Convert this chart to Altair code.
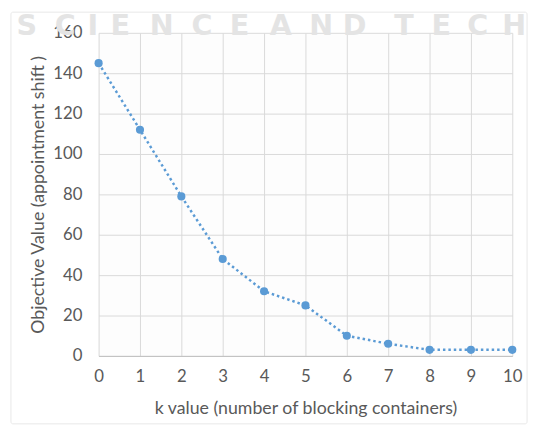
import altair as alt
import pandas as pd

k_values = [0, 1, 2, 3, 4, 5, 6, 7, 8, 9, 10]
objective = [145, 112, 79, 48, 32, 25, 10, 6, 3, 3, 3]
x_title = "k value (number of blocking containers)"
y_title = "Objective Value (appointment shift )"
watermark_letters = list("SCIENCEANDTECH")

# layout of the faint watermark letters (page pixel centres)
watermark_centres = [27, 66, 94, 122, 164, 205, 243, 285, 326, 360, 410, 448, 485, 522]

df = pd.DataFrame({"k": k_values, "obj": objective})
FONT = "Lato"
LINE_COLOR = "#5b9bd5"
TEXT_COLOR = "#595959"
PAD_LEFT, PAD_TOP = 92, 22

x_enc = alt.X("k:Q", scale=alt.Scale(domain=[0, 10], nice=False),
              axis=alt.Axis(values=k_values, title=x_title, grid=True,
                            ticks=False, domain=True, domainColor="#bfbfbf",
                            labelPadding=13, titlePadding=15, labelFontSize=17,
                            titleFontSize=18, labelFlush=False))
y_enc = alt.Y("obj:Q", scale=alt.Scale(domain=[0, 160], nice=False),
              axis=alt.Axis(values=list(range(0, 161, 20)), title=y_title,
                            grid=True, ticks=False, domain=False,
                            labelPadding=17, titlePadding=5, labelFontSize=17,
                            titleFontSize=18))

wm = pd.DataFrame({"w": watermark_letters,
                   "px": [c - 8 - PAD_LEFT for c in watermark_centres]})
watermark = alt.Chart(wm).mark_text(
    font="DejaVu Sans", fontWeight="bold", fontSize=29, color="#e4e4e4",
    align="center", baseline="middle"
).encode(x=alt.X("px:Q", scale=None), y=alt.value(-7), text="w:N")

frame = alt.Chart(alt.Data(values=[{}])).mark_rect(
    fill=None, stroke="#e8e8e8", strokeWidth=1, cornerRadius=2
).encode(x=alt.value(-89), x2=alt.value(435), y=alt.value(-21), y2=alt.value(397))

line = alt.Chart(df).mark_line(
    color=LINE_COLOR, strokeWidth=2.5, strokeDash=[2.5, 3]
).encode(x=x_enc, y=y_enc)

points = alt.Chart(df).mark_circle(
    color=LINE_COLOR, size=68, opacity=1
).encode(x="k:Q", y="obj:Q")

chart = alt.layer(frame, watermark, line, points).properties(
    width=420, height=328,
    autosize=alt.AutoSizeParams(type="none"),
    padding={"left": PAD_LEFT, "top": PAD_TOP, "right": 19, "bottom": 71},
    background="white",
).configure_view(
    stroke=None, fill="#fdfdfd"
).configure_axis(
    gridColor="#d9d9d9", gridWidth=1,
    labelColor=TEXT_COLOR, titleColor=TEXT_COLOR,
    labelFont=FONT, titleFont=FONT, titleFontWeight="normal",
)

chart.save("out.html", embed_options={"renderer": "svg", "actions": False})
